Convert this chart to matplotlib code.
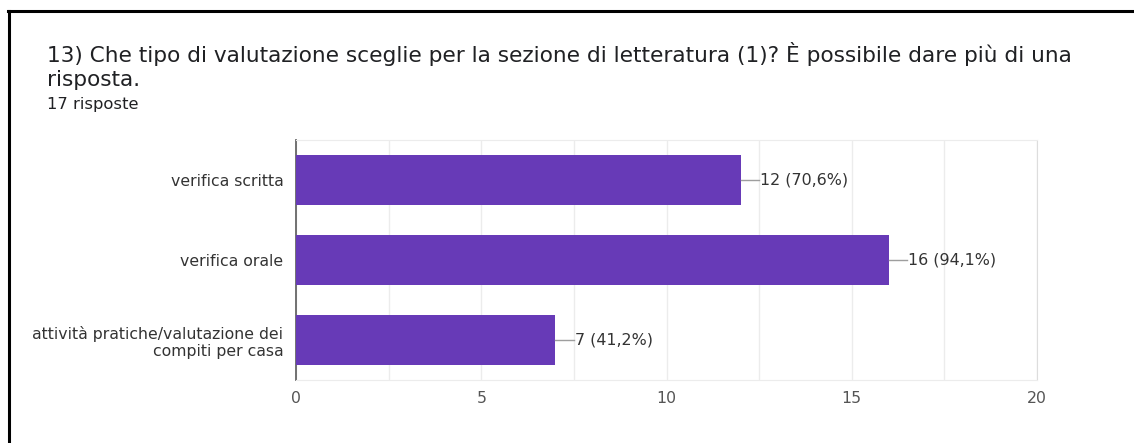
import matplotlib.pyplot as plt
from matplotlib.lines import Line2D
from matplotlib.ticker import MultipleLocator

categories = [
    "verifica scritta",
    "verifica orale",
    "attività pratiche/valutazione dei\ncompiti per casa",
]
counts = [12, 16, 7]
percents = ["70,6", "94,1", "41,2"]
total = 17

title_lines = [
    "13) Che tipo di valutazione sceglie per la sezione di letteratura (1)? "
    "È possibile dare più di una",
    "risposta.",
]

BAR = "#673ab7"
TEXT = "#333333"
W, H = 1134, 443

fig = plt.figure(figsize=(W / 100, H / 100), dpi=100)
fig.patch.set_facecolor("white")


def fx(px):
    return px / W


def fy(px):
    return 1 - px / H


# card border (top and left edges only)
fig.add_artist(Line2D([fx(8), 1], [fy(11)] * 2, color="black", lw=2.2,
                      transform=fig.transFigure))
fig.add_artist(Line2D([fx(9)] * 2, [0, fy(11)], color="black", lw=2.2,
                      transform=fig.transFigure))

for line, base in zip(title_lines, (62.5, 86.5)):
    fig.text(fx(47), fy(base), line, family="DejaVu Sans", fontsize=15.6,
             color="#202124", va="baseline", ha="left")
fig.text(fx(47), fy(108.5), f"{total} risposte", family="DejaVu Sans",
         fontsize=11.8, color="#202124", va="baseline", ha="left")

ax = fig.add_axes([fx(296), fy(380), (1037 - 296) / W, 240 / H])
y = range(len(categories))
ax.barh(y, counts, height=0.62, color=BAR, zorder=3)
ax.set_ylim(2.5, -0.5)
ax.set_xlim(0, 20)

for yi, c, p in zip(y, counts, percents):
    ax.plot([c, c + 0.5], [yi, yi], color="#9e9e9e", lw=1, zorder=3)
    ax.text(c + 0.52, yi, f"{c} ({p}%)", va="center", ha="left",
            family="DejaVu Sans", fontsize=11.4, color=TEXT)

ax.xaxis.set_major_locator(MultipleLocator(5))
ax.xaxis.set_minor_locator(MultipleLocator(2.5))
ax.grid(axis="x", which="both", color="#ececec", lw=1, zorder=0)
ax.set_yticks(list(y))
ax.set_yticklabels(categories, family="DejaVu Sans", fontsize=11.3, color=TEXT)
for lbl in ax.get_xticklabels():
    lbl.set_family("DejaVu Sans")
ax.tick_params(axis="x", length=0, pad=8, labelsize=11.3, labelcolor="#555555")
ax.tick_params(axis="y", length=0, pad=9)
ax.tick_params(which="minor", length=0)

for side in ("top", "bottom"):
    ax.spines[side].set_color("#ececec")
ax.spines["right"].set_color("#dddddd")
ax.spines["left"].set_color("#666666")
ax.spines["left"].set_linewidth(1.3)

fig.savefig("out.png", dpi=100, facecolor="white")
